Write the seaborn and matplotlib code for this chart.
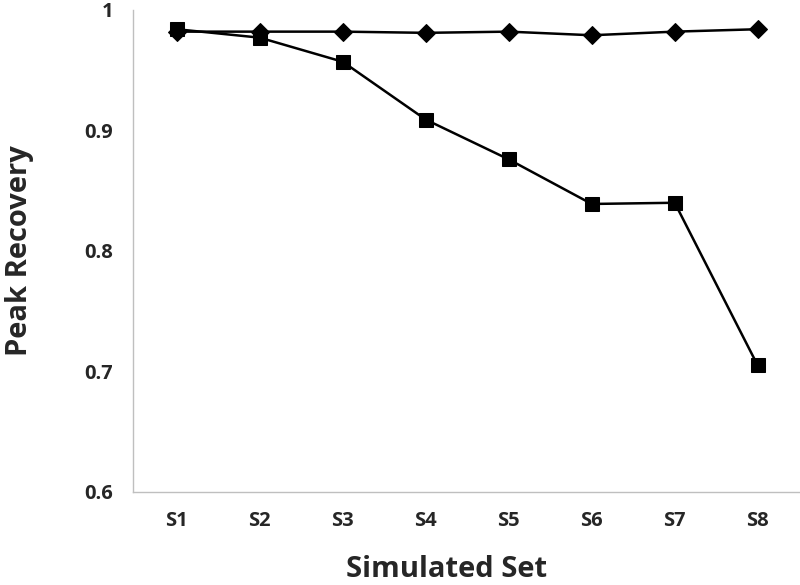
import pandas as pd
import seaborn as sns
import matplotlib.pyplot as plt
from matplotlib.ticker import FixedLocator

sets = ["S1", "S2", "S3", "S4", "S5", "S6", "S7", "S8"]
diamond_vals = [0.982, 0.982, 0.982, 0.981, 0.982, 0.979, 0.982, 0.984]
square_vals = [0.984, 0.977, 0.957, 0.909, 0.876, 0.839, 0.840, 0.705]

df = pd.DataFrame({
    "set": sets * 2,
    "recovery": diamond_vals + square_vals,
    "series": ["diamond"] * len(sets) + ["square"] * len(sets),
})
df["pos"] = df["set"].map({s: i for i, s in enumerate(sets)})

sns.set_style("white")
plt.rcParams['font.family'] = ['Open Sans', 'DejaVu Sans']

fig = plt.figure(figsize=(8, 5.85), dpi=100, facecolor='white')
ax = fig.add_axes([0.166, 0.159, 0.833, 0.824])

sns.lineplot(ax=ax, data=df[df.series == "diamond"], x="pos", y="recovery",
             color="black", marker="D", markersize=9, linewidth=1.8,
             markeredgecolor="black")
sns.lineplot(ax=ax, data=df[df.series == "square"], x="pos", y="recovery",
             color="black", marker="s", markersize=10, linewidth=1.8,
             markeredgecolor="black")

ax.set_xlim(-0.53, 7.5)
ax.set_ylim(0.6, 1.0)
ax.set_xticks(range(len(sets)))
ax.set_xticklabels(sets)
ax.xaxis.set_minor_locator(FixedLocator([7.5]))
ax.set_yticks([0.6, 0.7, 0.8, 0.9, 1.0])
ax.set_yticklabels(["0.6", "0.7", "0.8", "0.9", "1"])

for side in ["top", "right"]:
    ax.spines[side].set_visible(False)
for side in ["left", "bottom"]:
    ax.spines[side].set_color("#bfbfbf")
    ax.spines[side].set_linewidth(1.0)

ax.tick_params(axis="both", which="both", direction="out", length=4, width=1,
               color="#bfbfbf", labelsize=14.5, pad=10)
ax.tick_params(axis="y", pad=10)
for lbl in ax.get_xticklabels() + ax.get_yticklabels():
    lbl.set_fontweight("bold")

ax.set_xlabel("Simulated Set", fontsize=21, fontweight="bold")
ax.xaxis.set_label_coords(0.471, -0.13, transform=ax.transAxes)
ax.xaxis.label.set_va("top")
ax.set_ylabel("Peak Recovery", fontsize=21, fontweight="bold", labelpad=36)

fig.savefig("out.png", dpi=100, facecolor="white")
